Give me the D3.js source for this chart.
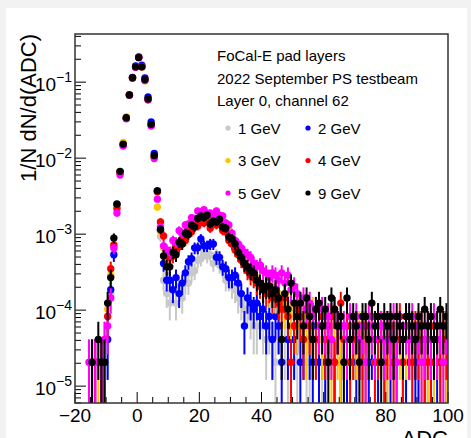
<!DOCTYPE html>
<html>
<head>
<meta charset="utf-8">
<script src="https://cdn.jsdelivr.net/npm/d3@7"></script>
<style>
body { margin: 0; background: #f2f2f2; }
svg { display: block; font-family: "Liberation Sans", Arial, sans-serif; }
</style>
</head>
<body>
<svg id="chart" width="471" height="438"></svg>
<script>

/////////////////////
// Data: counts per 1-ADC bin, first bin starts at ADC = -20
/////////////////////

var firstBin = -20;
var energies = ["1 GeV", "2 GeV", "3 GeV", "4 GeV", "5 GeV", "9 GeV"];
var colors = ["#c8c8c8", "#0000ff", "#ffc400", "#ff0000", "#ff00ff", "#000000"];
var nEvents = [48500, 48500, 48500, 48500, 48500, 48500];

var counts1 = [
    0, 0, 0, 0, 0, 0, 0, 0, 1, 0,
    2, 8, 30, 115, 320, 740, 1640, 3280, 5550, 7750,
    10300, 7800, 5250, 2900, 1350, 520, 175, 45, 12, 8,
    6, 9, 6, 10, 7, 11, 11, 15, 16, 22,
    23, 28, 25, 26, 20, 26, 19, 17, 12, 12,
    10, 9, 7, 6, 5, 5, 4, 3, 3, 4,
    3, 2, 3, 2, 1, 3, 2, 2, 1, 2,
    2, 1, 0, 2, 1, 1, 2, 0, 1, 1,
    1, 0, 2, 1, 0, 1, 1, 0, 1, 2,
    0, 1, 1, 0, 1, 2, 0, 1, 0, 1,
    1, 0, 1, 1, 0, 1, 2, 0, 1, 0,
    1, 1, 0, 1, 0, 1, 0, 2, 1, 0];
var counts2 = [
    0, 0, 0, 0, 0, 1, 1, 0, 1, 1,
    2, 9, 26, 118, 320, 720, 1620, 3300, 5600, 7900,
    10400, 8100, 5500, 3100, 1450, 560, 180, 55, 20, 12,
    12, 9, 13, 8, 11, 15, 21, 23, 32, 32,
    42, 34, 34, 36, 36, 24, 24, 18, 17, 13,
    13, 14, 11, 8, 3, 7, 6, 5, 6, 4,
    5, 3, 4, 2, 4, 3, 1, 0, 2, 3,
    2, 3, 1, 2, 0, 2, 1, 3, 1, 2,
    1, 2, 0, 1, 3, 1, 2, 1, 0, 2,
    1, 0, 2, 1, 1, 2, 0, 1, 2, 1,
    0, 1, 2, 1, 0, 1, 1, 2, 0, 1,
    1, 0, 1, 2, 1, 0, 1, 1, 0, 1];
var counts3 = [
    0, 0, 0, 0, 0, 0, 0, 1, 0, 2,
    5, 14, 34, 110, 315, 780, 1700, 3250, 5450, 7650,
    10150, 7650, 5050, 2800, 1300, 500, 110, 52, 32, 24,
    22, 30, 28, 36, 38, 48, 50, 62, 62, 78,
    76, 86, 74, 76, 66, 80, 70, 72, 56, 54,
    42, 34, 28, 24, 21, 18, 16, 14, 13, 11,
    10, 9, 8, 9, 7, 8, 6, 5, 6, 4,
    5, 3, 4, 4, 2, 3, 5, 2, 3, 2,
    3, 2, 1, 3, 2, 1, 2, 3, 1, 2,
    2, 3, 2, 1, 2, 3, 1, 2, 2, 1,
    1, 2, 3, 1, 2, 1, 2, 2, 1, 3,
    2, 1, 2, 1, 3, 1, 2, 1, 2, 1];
var counts4 = [
    0, 0, 0, 0, 0, 0, 1, 0, 1, 0,
    4, 17, 35, 105, 310, 730, 1620, 3300, 5550, 7650,
    10200, 7750, 5200, 2880, 1320, 510, 175, 70, 46, 26,
    24, 25, 32, 33, 42, 40, 54, 52, 64, 62,
    74, 68, 72, 58, 70, 64, 68, 54, 52, 40,
    36, 30, 26, 22, 19, 16, 14, 13, 11, 10,
    9, 8, 9, 7, 8, 6, 5, 7, 4, 1,
    3, 5, 4, 2, 5, 3, 4, 2, 3, 4,
    2, 3, 4, 1, 3, 6, 2, 3, 1, 2,
    3, 2, 1, 3, 2, 4, 1, 2, 3, 1,
    2, 3, 1, 2, 4, 1, 3, 2, 1, 3,
    2, 3, 1, 2, 1, 3, 2, 1, 3, 2];
var counts5 = [
    0, 0, 0, 0, 1, 0, 1, 0, 1, 2,
    3, 7, 32, 92, 290, 700, 1600, 3250, 5500, 7600,
    10300, 7800, 5100, 2850, 1280, 480, 140, 60, 34, 30,
    28, 40, 38, 54, 50, 64, 66, 80, 78, 98,
    96, 102, 90, 92, 84, 98, 86, 84, 68, 64,
    50, 40, 36, 32, 28, 26, 24, 20, 18, 19,
    16, 15, 13, 15, 14, 12, 15, 11, 14, 9,
    10, 8, 6, 7, 5, 6, 4, 5, 3, 5,
    3, 4, 2, 5, 3, 4, 3, 2, 4, 3,
    4, 2, 3, 1, 4, 3, 2, 4, 3, 2,
    3, 2, 4, 1, 3, 2, 3, 2, 4, 2,
    3, 1, 2, 3, 2, 4, 2, 3, 1, 3];
var counts9 = [
    0, 0, 0, 0, 0, 1, 0, 2, 1, 1,
    6, 13, 43, 121, 325, 742, 1650, 3280, 5530, 7710,
    10230, 7710, 5240, 2910, 1350, 524, 180, 56, 25, 18,
    18, 28, 26, 38, 36, 50, 48, 64, 60, 78,
    84, 80, 86, 66, 72, 70, 76, 60, 58, 44,
    42, 36, 28, 24, 20, 18, 16, 15, 12, 11,
    9, 10, 10, 8, 9, 7, 2, 8, 5, 11,
    6, 4, 6, 3, 7, 4, 2, 5, 6, 3,
    5, 1, 7, 5, 3, 4, 1, 7, 2, 4,
    3, 1, 4, 4, 2, 6, 3, 4, 1, 4,
    3, 4, 2, 4, 3, 2, 4, 4, 3, 2,
    4, 3, 5, 3, 4, 2, 3, 5, 3, 4];

var allCounts = [counts1, counts2, counts3, counts4, counts5, counts9];

var infoLines = ["FoCal-E pad layers", "2022 September PS testbeam", "Layer 0, channel 62"];
var xTicks = [-20, 0, 20, 40, 60, 80, 100];
var yDecades = [-5, -4, -3, -2, -1];

/////////////////////
// Frame and scales
/////////////////////

var frame = {left: 75, right: 448, top: 34, bottom: 403};

var x = d3.scaleLinear()
    .domain([-20, 100])
    .range([frame.left, frame.right]);

var y = d3.scaleLog()
    .domain([6e-6, 0.43])
    .range([frame.bottom, frame.top]);

var svg = d3.select("#chart");

svg.append("rect")
    .attr("x", 6).attr("y", 8)
    .attr("width", 461).attr("height", 430)
    .attr("fill", "#ffffff");

svg.append("clipPath")
    .attr("id", "clip")
  .append("rect")
    .attr("x", frame.left).attr("y", frame.top)
    .attr("width", frame.right - frame.left)
    .attr("height", frame.bottom - frame.top);

// Build points for each series

var series = energies.map(function(name, s) {
    var N = nEvents[s];
    var pts = [];
    allCounts[s].forEach(function(c, i) {
        if (c > 0) {
            var center = firstBin + i + 0.5;
            var err = Math.sqrt(c) / N;
            pts.push({x: center, v: c / N, lo: c / N - err, hi: c / N + err});
        }
    });
    return {name: name, color: colors[s], pts: pts};
});

var plot = svg.append("g")
    .attr("clip-path", "url(#clip)");

var groups = plot.selectAll(".series")
    .data(series)
  .enter().append("g")
    .attr("class", "series");

groups.selectAll("line")
    .data(function(d) { return d.pts; })
  .enter().append("line")
    .attr("x1", function(d) { return x(d.x); })
    .attr("x2", function(d) { return x(d.x); })
    .attr("y1", function(d) { return d.lo > 0 ? y(d.lo) : frame.bottom; })
    .attr("y2", function(d) { return y(d.hi); })
    .attr("stroke", function() { return d3.select(this.parentNode).datum().color; })
    .attr("stroke-width", 2);

groups.selectAll("circle")
    .data(function(d) { return d.pts; })
  .enter().append("circle")
    .attr("cx", function(d) { return x(d.x); })
    .attr("cy", function(d) { return y(d.v); })
    .attr("r", 3.7)
    .attr("fill", function() { return d3.select(this.parentNode).datum().color; });

/////////////////////
// Axes
/////////////////////

var axes = svg.append("g");

// x ticks
d3.range(-20, 101, 5).forEach(function(t) {
    var major = xTicks.indexOf(t) >= 0;
    axes.append("line")
        .attr("x1", x(t)).attr("x2", x(t))
        .attr("y1", frame.bottom).attr("y2", frame.bottom - (major ? 11 : 6))
        .attr("stroke", "#000").attr("stroke-width", 1);
});

axes.selectAll(".xlab")
    .data(xTicks)
  .enter().append("text")
    .attr("class", "xlab")
    .attr("x", function(d) { return x(d); })
    .attr("y", 422)
    .attr("text-anchor", "middle")
    .attr("font-size", 19)
    .text(function(d) { return d < 0 ? "\u2212" + Math.abs(d) : d; });

// y ticks
[-6, -5, -4, -3, -2, -1].forEach(function(dec) {
    for (var m = 1; m <= 9; m++) {
        var v = m * Math.pow(10, dec);
        if (v < y.domain()[0] || v > y.domain()[1]) continue;
        axes.append("line")
            .attr("x1", frame.left).attr("x2", frame.left + (m === 1 ? 11 : 6))
            .attr("y1", y(v)).attr("y2", y(v))
            .attr("stroke", "#000").attr("stroke-width", 1);
    }
});

var ylab = axes.selectAll(".ylab")
    .data(yDecades)
  .enter().append("text")
    .attr("class", "ylab")
    .attr("x", 72)
    .attr("y", function(d) { return y(Math.pow(10, d)) + 9; })
    .attr("text-anchor", "end")
    .attr("font-size", 19);
ylab.append("tspan")
    .text("10");
ylab.append("tspan")
    .attr("dy", -9)
    .attr("font-size", 14)
    .text(function(d) { return "\u2212" + Math.abs(d); });

// frame
svg.append("rect")
    .attr("x", frame.left).attr("y", frame.top)
    .attr("width", frame.right - frame.left)
    .attr("height", frame.bottom - frame.top)
    .attr("fill", "none")
    .attr("stroke", "#333")
    .attr("stroke-width", 1.5);

// titles
svg.append("text")
    .attr("transform", "translate(36," + frame.top + ") rotate(-90)")
    .attr("text-anchor", "end")
    .attr("font-size", 22)
    .text("1/N dN/d(ADC)");

svg.append("text")
    .attr("x", frame.right)
    .attr("y", 446)
    .attr("text-anchor", "end")
    .attr("font-size", 22)
    .text("ADC");

/////////////////////
// Legend
/////////////////////

svg.selectAll(".info")
    .data(infoLines)
  .enter().append("text")
    .attr("class", "info")
    .attr("x", 217)
    .attr("y", function(d, i) { return 61 + i * 22.5; })
    .attr("font-size", 15)
    .text(function(d) { return d; });

var legend = svg.selectAll(".legend")
    .data(series)
  .enter().append("g")
    .attr("class", "legend")
    .attr("transform", function(d, i) {
        return "translate(" + (228 + (i % 2) * 80) + "," + (128 + Math.floor(i / 2) * 32.5) + ")";
    });
legend.append("circle")
    .attr("r", 2.6)
    .attr("fill", function(d) { return d.color; });
legend.append("text")
    .attr("x", 10)
    .attr("y", 5.5)
    .attr("font-size", 15)
    .text(function(d) { return d.name; });

</script>
</body>
</html>
